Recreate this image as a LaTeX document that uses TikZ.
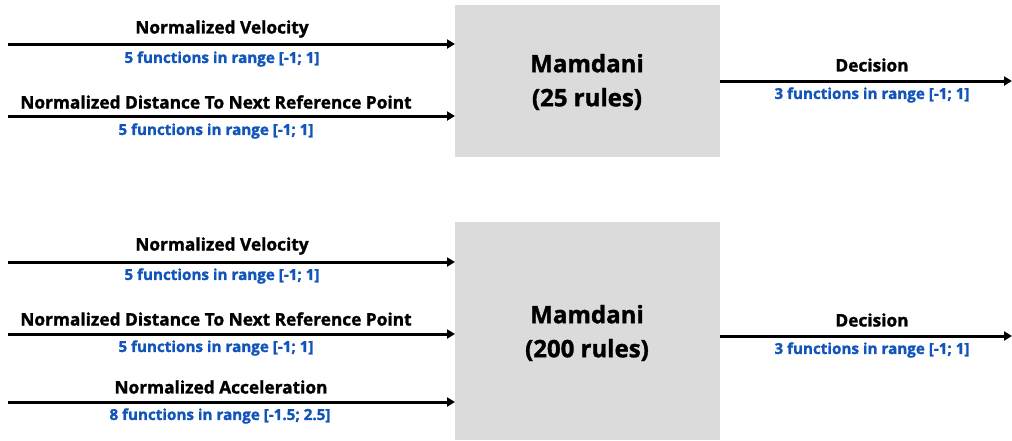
\documentclass[tikz,border=0pt]{standalone}
\usepackage{fontspec}
\setmainfont{Open Sans}[BoldFont={Open Sans Bold},BoldFeatures={FakeBold=1.4}]
\usetikzlibrary{arrows.meta}
\definecolor{boxgray}{HTML}{DBDBDB}
\definecolor{subblue}{HTML}{1155BB}
\begin{document}
\begin{tikzpicture}[x=1pt,y=-1pt,
  fbox/.style={fill=boxgray, draw=none, inner sep=0pt, anchor=north west},
  conn/.style={line width=3pt, -{Triangle[length=8pt,width=9pt]}},
  ttl/.style={font=\bfseries\fontsize{17.3}{20}\selectfont, inner sep=0pt, text=black},
  sub/.style={font=\bfseries\fontsize{15.2}{17}\selectfont, inner sep=0pt, text=subblue},
  big/.style={font=\bfseries\fontsize{24}{34}\selectfont, align=center, inner sep=0pt}]
\useasboundingbox (0,0) rectangle (1012,440);
% boxes
\node[fbox, minimum width=265pt, minimum height=152pt] (b1) at (455,5) {};
\node[fbox, minimum width=265pt, minimum height=218pt] (b2) at (455,222) {};
\node[big] (m1) at (587,82) {Mamdani\\(25 rules)};
\node[big] (m2) at (587,333) {Mamdani\\(200 rules)};
% top inputs
\coordinate (a1) at (8,44);
\coordinate (a2) at (8,116);
\coordinate (o1) at (1012,81);
\draw[conn] (a1) -- (a1 -| b1.west);
\draw[conn] (a2) -- (a2 -| b1.west);
\draw[conn] (b1.east |- o1) -- (o1);
\node[ttl] (t1) at (222,29) {Normalized Velocity};
\node[sub] (s1) at (222,59) {5 functions in range [-1; 1]};
\node[ttl] (t2) at (216,102) {Normalized Distance To Next Reference Point};
\node[sub] (s2) at (216,131) {5 functions in range [-1; 1]};
\node[ttl] (t3) at (872,65) {Decision};
\node[sub] (s3) at (872,95) {3 functions in range [-1; 1]};
% bottom inputs
\coordinate (c1) at (8,262);
\coordinate (c2) at (8,334);
\coordinate (c3) at (8,402);
\coordinate (o2) at (1012,336);
\draw[conn] (c1) -- (c1 -| b2.west);
\draw[conn] (c2) -- (c2 -| b2.west);
\draw[conn] (c3) -- (c3 -| b2.west);
\draw[conn] (b2.east |- o2) -- (o2);
\node[ttl] (u1) at (222,246) {Normalized Velocity};
\node[sub] (v1) at (222,276) {5 functions in range [-1; 1]};
\node[ttl] (u2) at (216,319) {Normalized Distance To Next Reference Point};
\node[sub] (v2) at (216,348) {5 functions in range [-1; 1]};
\node[ttl] (u3) at (221,387) {Normalized Acceleration};
\node[sub] (v3) at (220,416) {8 functions in range [-1.5; 2.5]};
\node[ttl] (u4) at (872,320) {Decision};
\node[sub] (v4) at (872,350) {3 functions in range [-1; 1]};
\end{tikzpicture}
\end{document}
